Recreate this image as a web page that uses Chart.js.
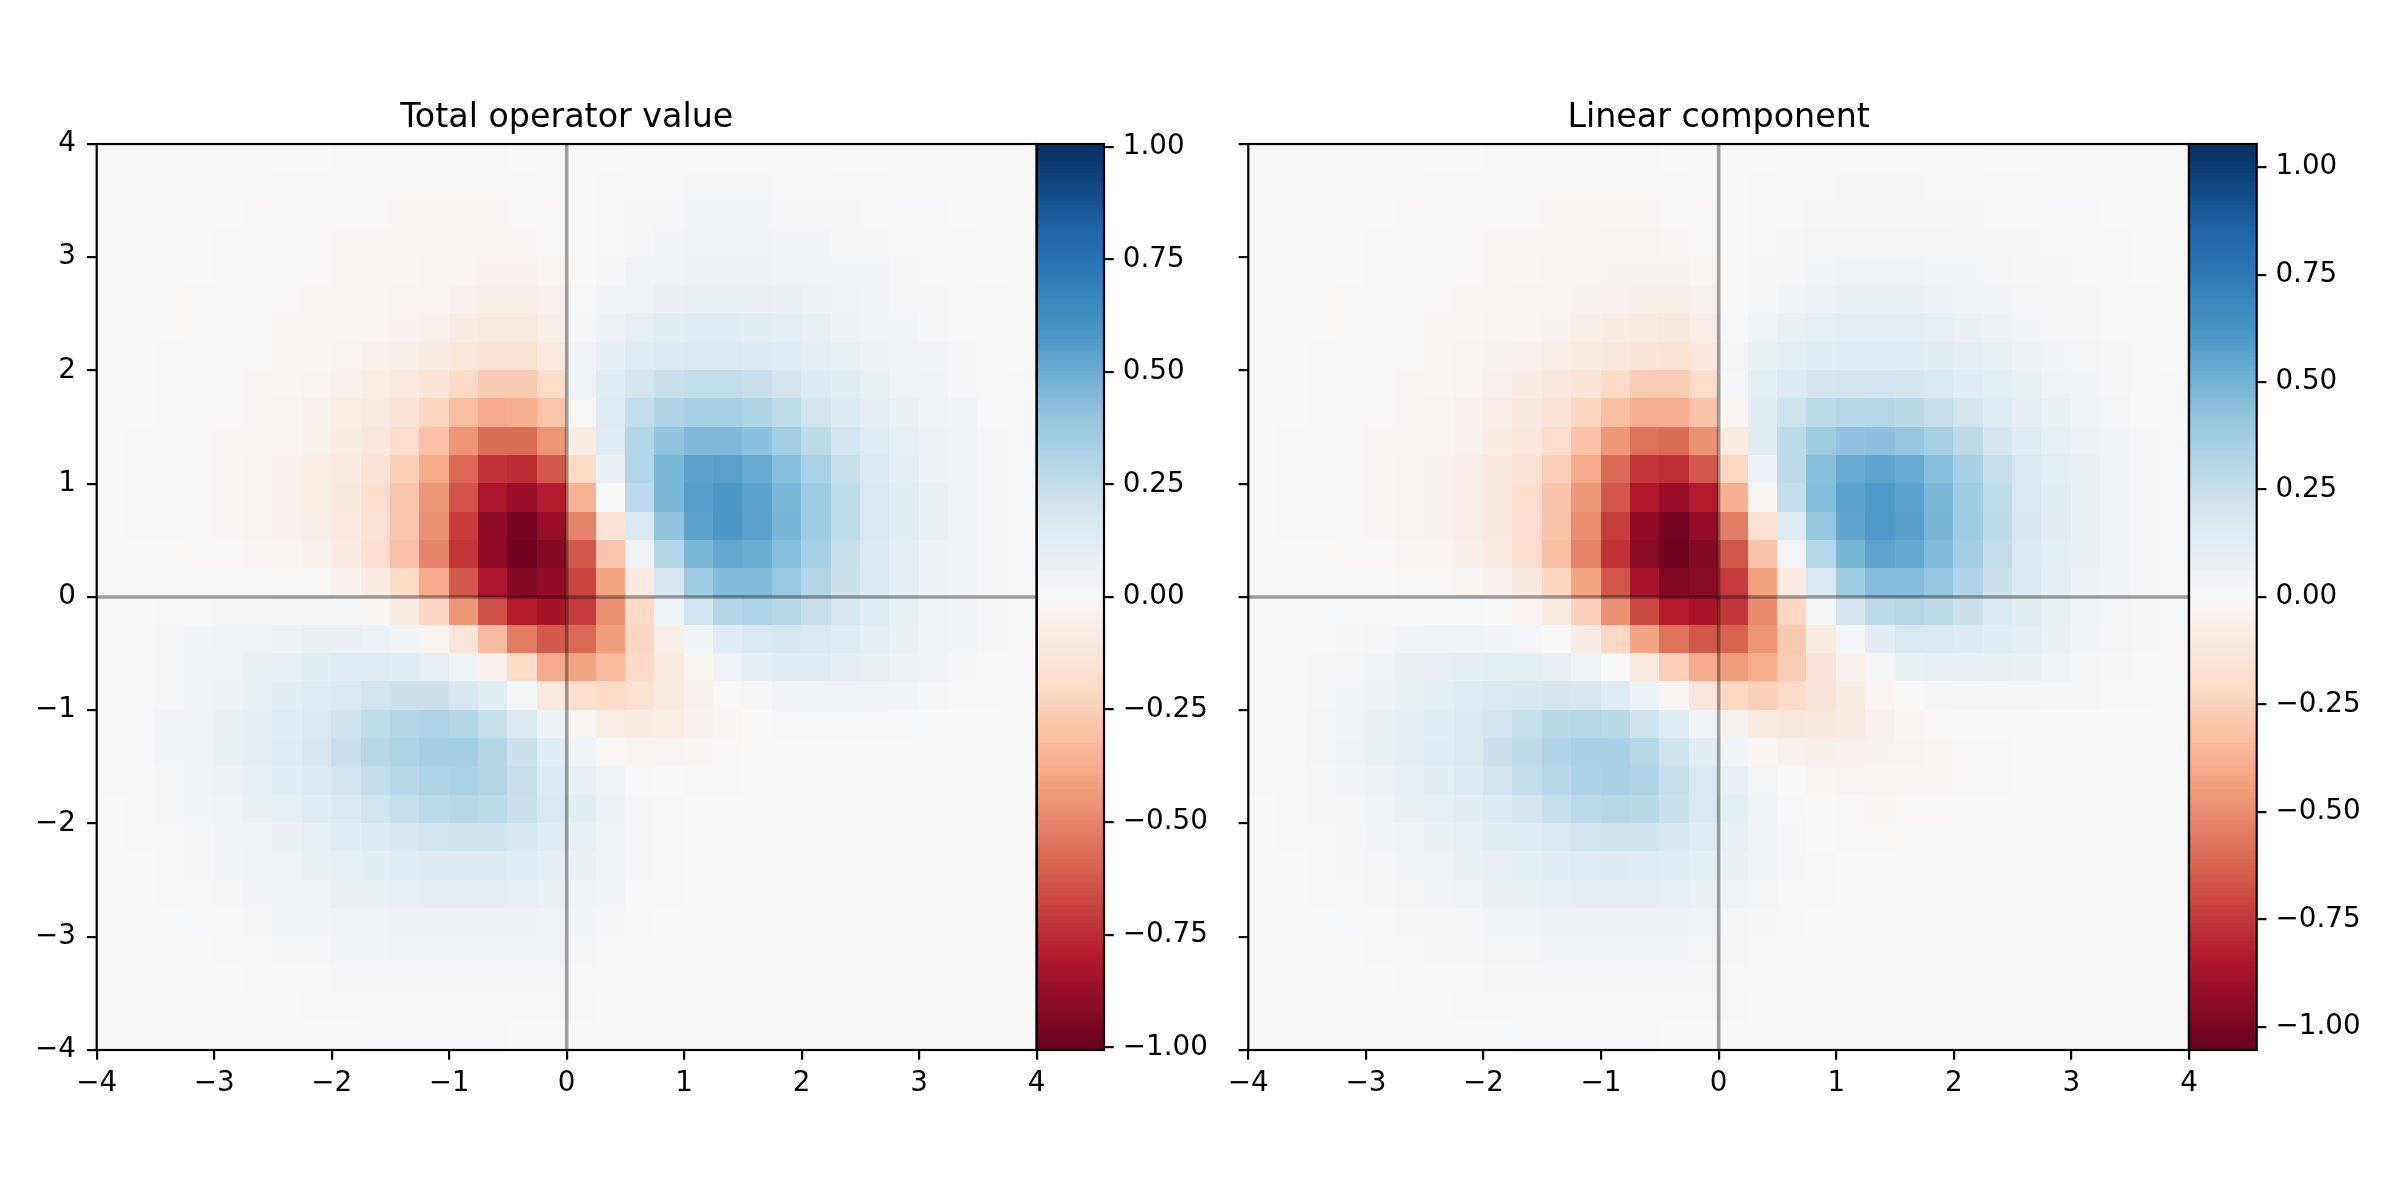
<!DOCTYPE html>
<html lang="en">
<head>
    <meta charset="UTF-8">
    <title>Total operator value / Linear component</title>
    <script src="https://cdn.jsdelivr.net/npm/chart.js"></script>
    <style>
        body {
            margin: 0;
            background: white;
        }
        .figure {
            position: relative;
            width: 2400px;
            height: 1200px;
        }
        .panel {
            position: absolute;
            top: 0;
            height: 1200px;
        }
    </style>
</head>
<body>
    <div class="figure">
        <div class="panel" style="left:0"><canvas id="totalChart" width="1240" height="1200"></canvas></div>
        <div class="panel" style="left:1200px"><canvas id="linearChart" width="1200" height="1200"></canvas></div>
    </div>

    <script>
        // cell centres (grid step 0.25), rows listed from top (y = 3.875) to bottom
        const xCenters = [-3.875, -3.625, -3.375, -3.125, -2.875, -2.625, -2.375, -2.125,
                          -1.875, -1.625, -1.375, -1.125, -0.875, -0.625, -0.375, -0.125,
                          0.125, 0.375, 0.625, 0.875, 1.125, 1.375, 1.625, 1.875,
                          2.125, 2.375, 2.625, 2.875, 3.125, 3.375, 3.625, 3.875];
        const yCenters = xCenters.slice().reverse();
        const axisTicks = [-4, -3, -2, -1, 0, 1, 2, 3, 4];
        const colorbarTicks = [-1, -0.75, -0.5, -0.25, 0, 0.25, 0.5, 0.75, 1];

        const totalValues = [
            [0,0,0,0,0,0,0,0,-0.01,-0.01,-0.01,-0.01,-0.01,-0.01,0,0, 0,0,0.01,0.01,0.01,0.01,0.01,0.01,0.01,0,0,0,0,0,0,0],
            [0,0,0,0,0,0,-0.01,-0.01,-0.01,-0.01,-0.01,-0.01,-0.01,-0.01,-0.01,0, 0,0.01,0.01,0.01,0.02,0.02,0.02,0.01,0.01,0.01,0.01,0,0,0,0,0],
            [0,0,0,0,0,-0.01,-0.01,-0.01,-0.01,-0.01,-0.02,-0.02,-0.02,-0.02,-0.01,-0.01, 0,0.01,0.02,0.02,0.03,0.03,0.03,0.02,0.02,0.02,0.01,0.01,0.01,0,0,0],
            [0,0,0,0,-0.01,-0.01,-0.01,-0.01,-0.02,-0.02,-0.02,-0.02,-0.02,-0.02,-0.02,-0.01, 0,0.01,0.02,0.03,0.04,0.04,0.04,0.03,0.03,0.02,0.02,0.01,0.01,0.01,0,0],
            [0,0,0,0,-0.01,-0.01,-0.01,-0.01,-0.02,-0.02,-0.02,-0.03,-0.03,-0.04,-0.04,-0.02, 0,0.02,0.04,0.05,0.06,0.06,0.06,0.05,0.04,0.03,0.03,0.02,0.01,0.01,0,0],
            [0,0,0,-0.01,-0.01,-0.01,-0.01,-0.02,-0.02,-0.02,-0.03,-0.03,-0.05,-0.06,-0.06,-0.04, 0.01,0.03,0.05,0.07,0.08,0.08,0.08,0.07,0.06,0.05,0.03,0.02,0.02,0.01,0.01,0],
            [0,0,0,-0.01,-0.01,-0.01,-0.02,-0.02,-0.02,-0.03,-0.04,-0.05,-0.08,-0.1,-0.1,-0.06, 0.02,0.06,0.09,0.11,0.12,0.12,0.11,0.1,0.08,0.06,0.05,0.03,0.02,0.01,0.01,0],
            [0,0,-0.01,-0.01,-0.01,-0.01,-0.02,-0.02,-0.03,-0.05,-0.06,-0.08,-0.12,-0.15,-0.15,-0.1, 0.04,0.1,0.14,0.16,0.17,0.17,0.15,0.13,0.1,0.08,0.06,0.04,0.03,0.02,0.01,0],
            [0,0,-0.01,-0.01,-0.01,-0.02,-0.02,-0.03,-0.05,-0.07,-0.1,-0.14,-0.2,-0.26,-0.26,-0.19, 0.04,0.13,0.19,0.23,0.25,0.25,0.23,0.19,0.15,0.11,0.08,0.05,0.04,0.02,0.01,0.01],
            [0,0,-0.01,-0.01,-0.01,-0.02,-0.03,-0.05,-0.07,-0.1,-0.15,-0.22,-0.31,-0.38,-0.37,-0.28, -0.01,0.14,0.25,0.31,0.34,0.34,0.31,0.26,0.2,0.15,0.1,0.07,0.04,0.03,0.01,0.01],
            [0,-0.01,-0.01,-0.01,-0.02,-0.02,-0.03,-0.05,-0.08,-0.12,-0.19,-0.3,-0.45,-0.57,-0.57,-0.45, -0.08,0.13,0.3,0.4,0.45,0.45,0.42,0.35,0.27,0.2,0.14,0.09,0.06,0.04,0.02,0.01],
            [0,-0.01,-0.01,-0.01,-0.02,-0.03,-0.04,-0.07,-0.1,-0.15,-0.25,-0.38,-0.58,-0.73,-0.75,-0.62, -0.2,0.08,0.3,0.46,0.54,0.55,0.51,0.43,0.33,0.24,0.16,0.1,0.06,0.04,0.02,0.01],
            [0,-0.01,-0.01,-0.01,-0.02,-0.03,-0.04,-0.07,-0.11,-0.18,-0.28,-0.44,-0.64,-0.82,-0.88,-0.8, -0.35,0,0.27,0.46,0.56,0.58,0.54,0.46,0.36,0.26,0.17,0.11,0.07,0.04,0.02,0.01],
            [0,-0.01,-0.01,-0.01,-0.02,-0.03,-0.04,-0.06,-0.1,-0.16,-0.28,-0.46,-0.7,-0.9,-0.97,-0.88, -0.5,-0.15,0.16,0.4,0.54,0.58,0.55,0.47,0.36,0.26,0.17,0.11,0.07,0.04,0.02,0.01],
            [0,0,0,-0.01,-0.01,-0.02,-0.03,-0.05,-0.09,-0.17,-0.3,-0.5,-0.72,-0.9,-0.98,-0.92, -0.62,-0.28,0.04,0.3,0.46,0.52,0.5,0.43,0.34,0.24,0.16,0.1,0.06,0.04,0.02,0.01],
            [0,0,0,0,0,0,-0.01,-0.01,-0.04,-0.09,-0.2,-0.38,-0.62,-0.82,-0.93,-0.9, -0.68,-0.4,-0.09,0.18,0.36,0.44,0.44,0.38,0.3,0.22,0.15,0.1,0.06,0.03,0.02,0.01],
            [0,0,0.01,0.01,0.02,0.02,0.02,0.02,0.02,-0.02,-0.08,-0.22,-0.44,-0.65,-0.8,-0.84, -0.7,-0.46,-0.2,0.03,0.2,0.3,0.32,0.29,0.24,0.18,0.12,0.08,0.05,0.03,0.02,0.01],
            [0.01,0.01,0.02,0.03,0.04,0.05,0.06,0.07,0.07,0.06,0.03,-0.03,-0.12,-0.32,-0.52,-0.62, -0.58,-0.42,-0.22,-0.06,0.03,0.12,0.17,0.18,0.17,0.13,0.1,0.07,0.04,0.03,0.02,0.01],
            [0.01,0.01,0.02,0.04,0.05,0.07,0.09,0.11,0.13,0.14,0.12,0.09,0.04,-0.04,-0.2,-0.38, -0.4,-0.32,-0.2,-0.09,-0.02,0.05,0.1,0.12,0.12,0.1,0.08,0.06,0.04,0.02,0.01,0.01],
            [0.01,0.01,0.02,0.04,0.06,0.08,0.11,0.14,0.17,0.2,0.22,0.22,0.18,0.11,0.02,-0.1, -0.18,-0.2,-0.16,-0.09,-0.05,-0.01,0.02,0.04,0.05,0.05,0.04,0.03,0.02,0.01,0.01,0],
            [0.01,0.01,0.03,0.04,0.07,0.1,0.13,0.17,0.21,0.26,0.3,0.32,0.3,0.24,0.15,0.06, -0.02,-0.07,-0.08,-0.07,-0.04,-0.02,0,0.01,0.01,0.01,0.01,0.01,0,0,0,0],
            [0.01,0.01,0.03,0.05,0.07,0.1,0.14,0.18,0.23,0.28,0.32,0.35,0.35,0.3,0.22,0.12, 0.04,-0.01,-0.03,-0.03,-0.02,-0.01,0,0,0,0,0,0,0,0,0,0],
            [0.01,0.01,0.02,0.04,0.06,0.09,0.12,0.16,0.2,0.25,0.29,0.32,0.33,0.3,0.24,0.16, 0.09,0.04,0.01,0,-0.01,-0.01,0,0,0,0,0,0,0,0,0,0],
            [0,0.01,0.02,0.03,0.05,0.07,0.09,0.12,0.16,0.2,0.24,0.27,0.28,0.27,0.23,0.17, 0.11,0.06,0.02,0.01,0,0,0,0,0,0,0,0,0,0,0,0],
            [0,0.01,0.01,0.02,0.04,0.05,0.07,0.09,0.12,0.15,0.18,0.2,0.21,0.21,0.18,0.14, 0.09,0.05,0.02,0.01,0,0,0,0,0,0,0,0,0,0,0,0],
            [0,0,0.01,0.02,0.03,0.04,0.05,0.07,0.09,0.11,0.13,0.15,0.15,0.15,0.13,0.1, 0.07,0.04,0.02,0.01,0,0,0,0,0,0,0,0,0,0,0,0],
            [0,0,0.01,0.01,0.02,0.03,0.04,0.05,0.07,0.08,0.09,0.1,0.1,0.1,0.09,0.07, 0.05,0.03,0.01,0.01,0,0,0,0,0,0,0,0,0,0,0,0],
            [0,0,0,0.01,0.01,0.02,0.03,0.03,0.04,0.05,0.06,0.06,0.06,0.06,0.06,0.05, 0.03,0.02,0.01,0,0,0,0,0,0,0,0,0,0,0,0,0],
            [0,0,0,0,0.01,0.01,0.02,0.02,0.03,0.03,0.04,0.04,0.04,0.04,0.04,0.03, 0.02,0.01,0,0,0,0,0,0,0,0,0,0,0,0,0,0],
            [0,0,0,0,0,0.01,0.01,0.01,0.02,0.02,0.02,0.02,0.02,0.02,0.02,0.02, 0.01,0.01,0,0,0,0,0,0,0,0,0,0,0,0,0,0],
            [0,0,0,0,0,0,0,0.01,0.01,0.01,0.01,0.01,0.01,0.01,0.01,0.01, 0.01,0,0,0,0,0,0,0,0,0,0,0,0,0,0,0],
            [0,0,0,0,0,0,0,0,0,0.01,0.01,0.01,0.01,0.01,0,0, 0,0,0,0,0,0,0,0,0,0,0,0,0,0,0,0]
        ];

        const linearValues = [
            [0,0,0,0,0,0,0,0,-0.01,-0.01,-0.01,-0.01,-0.01,-0.01,0,0, 0,0,0.01,0.01,0.01,0.01,0.01,0.01,0.01,0,0,0,0,0,0,0],
            [0,0,0,0,0,0,-0.01,-0.01,-0.01,-0.01,-0.01,-0.01,-0.01,-0.01,-0.01,0, 0,0.01,0.01,0.01,0.02,0.02,0.02,0.01,0.01,0.01,0.01,0,0,0,0,0],
            [0,0,0,0,0,-0.01,-0.01,-0.01,-0.01,-0.01,-0.02,-0.02,-0.02,-0.02,-0.01,-0.01, 0,0.01,0.01,0.02,0.02,0.02,0.02,0.02,0.02,0.01,0.01,0.01,0.01,0,0,0],
            [0,0,0,0,-0.01,-0.01,-0.01,-0.01,-0.02,-0.02,-0.02,-0.02,-0.03,-0.03,-0.02,-0.01, 0,0.01,0.02,0.03,0.03,0.03,0.03,0.03,0.02,0.02,0.02,0.01,0.01,0.01,0,0],
            [0,0,0,0,-0.01,-0.01,-0.01,-0.01,-0.02,-0.02,-0.03,-0.03,-0.04,-0.04,-0.04,-0.02, 0,0.02,0.03,0.04,0.05,0.05,0.05,0.04,0.04,0.03,0.02,0.02,0.01,0.01,0,0],
            [0,0,0,-0.01,-0.01,-0.01,-0.01,-0.02,-0.02,-0.03,-0.03,-0.04,-0.05,-0.06,-0.06,-0.04, 0,0.02,0.04,0.06,0.07,0.07,0.07,0.06,0.05,0.04,0.03,0.02,0.02,0.01,0.01,0],
            [0,0,0,-0.01,-0.01,-0.01,-0.02,-0.02,-0.03,-0.03,-0.04,-0.06,-0.08,-0.1,-0.11,-0.07, 0.01,0.05,0.08,0.09,0.1,0.1,0.1,0.09,0.07,0.06,0.04,0.03,0.02,0.01,0.01,0],
            [0,0,-0.01,-0.01,-0.01,-0.01,-0.02,-0.03,-0.04,-0.05,-0.07,-0.09,-0.12,-0.15,-0.16,-0.11, 0.03,0.08,0.11,0.13,0.14,0.14,0.13,0.12,0.1,0.08,0.06,0.04,0.03,0.02,0.01,0],
            [0,0,-0.01,-0.01,-0.01,-0.02,-0.02,-0.03,-0.05,-0.08,-0.11,-0.15,-0.21,-0.27,-0.27,-0.2, 0.02,0.11,0.16,0.2,0.21,0.21,0.2,0.17,0.14,0.11,0.08,0.05,0.04,0.02,0.01,0.01],
            [0,0,-0.01,-0.01,-0.01,-0.02,-0.03,-0.05,-0.07,-0.11,-0.16,-0.23,-0.32,-0.39,-0.39,-0.3, -0.02,0.12,0.22,0.28,0.3,0.31,0.29,0.25,0.2,0.15,0.1,0.07,0.05,0.03,0.01,0.01],
            [0,-0.01,-0.01,-0.01,-0.02,-0.02,-0.03,-0.05,-0.08,-0.13,-0.2,-0.31,-0.46,-0.58,-0.6,-0.48, -0.1,0.12,0.28,0.38,0.43,0.44,0.41,0.35,0.28,0.2,0.14,0.09,0.06,0.04,0.02,0.01],
            [0,-0.01,-0.01,-0.01,-0.02,-0.03,-0.04,-0.07,-0.11,-0.16,-0.26,-0.4,-0.6,-0.75,-0.78,-0.65, -0.22,0.06,0.28,0.45,0.53,0.56,0.53,0.45,0.35,0.25,0.17,0.11,0.07,0.04,0.02,0.01],
            [0,-0.01,-0.01,-0.01,-0.02,-0.03,-0.04,-0.07,-0.11,-0.19,-0.3,-0.46,-0.66,-0.85,-0.92,-0.84, -0.38,-0.02,0.26,0.46,0.57,0.6,0.57,0.48,0.37,0.27,0.18,0.12,0.07,0.04,0.02,0.01],
            [0,-0.01,-0.01,-0.01,-0.02,-0.03,-0.04,-0.07,-0.11,-0.18,-0.3,-0.49,-0.73,-0.94,-1.02,-0.93, -0.54,-0.17,0.15,0.41,0.56,0.6,0.58,0.49,0.38,0.28,0.19,0.12,0.07,0.04,0.02,0.01],
            [0,0,0,-0.01,-0.01,-0.02,-0.03,-0.06,-0.1,-0.19,-0.32,-0.53,-0.76,-0.95,-1.03,-0.97, -0.66,-0.3,0.03,0.31,0.49,0.56,0.54,0.47,0.36,0.26,0.18,0.11,0.07,0.04,0.02,0.01],
            [0,0,0,0,0,-0.01,-0.01,-0.02,-0.05,-0.11,-0.23,-0.42,-0.66,-0.87,-0.98,-0.96, -0.74,-0.43,-0.1,0.18,0.37,0.46,0.46,0.41,0.32,0.23,0.16,0.1,0.06,0.04,0.02,0.01],
            [0,0,0,0.01,0.01,0.01,0.01,0.01,0,-0.03,-0.1,-0.25,-0.48,-0.7,-0.84,-0.87, -0.75,-0.5,-0.22,0.03,0.2,0.28,0.3,0.28,0.23,0.17,0.12,0.08,0.05,0.03,0.02,0.01],
            [0.01,0.01,0.01,0.02,0.03,0.04,0.05,0.05,0.04,0.02,0,-0.08,-0.22,-0.42,-0.58,-0.66, -0.62,-0.47,-0.28,-0.1,0.03,0.12,0.17,0.18,0.16,0.13,0.1,0.07,0.04,0.03,0.02,0.01],
            [0.01,0.01,0.02,0.03,0.05,0.07,0.09,0.1,0.11,0.11,0.09,0.05,0,-0.1,-0.26,-0.4, -0.45,-0.39,-0.27,-0.14,-0.05,0.02,0.07,0.09,0.09,0.08,0.07,0.05,0.03,0.02,0.01,0.01],
            [0.01,0.01,0.02,0.04,0.06,0.08,0.11,0.14,0.17,0.19,0.2,0.19,0.14,0.06,-0.02,-0.12, -0.22,-0.25,-0.21,-0.14,-0.08,-0.03,0,0.02,0.03,0.03,0.03,0.02,0.02,0.01,0.01,0],
            [0.01,0.01,0.03,0.04,0.07,0.1,0.13,0.17,0.21,0.25,0.29,0.31,0.29,0.22,0.13,0.04, -0.04,-0.1,-0.12,-0.11,-0.08,-0.05,-0.02,-0.01,0,0,0,0,0,0,0,0],
            [0.01,0.01,0.03,0.05,0.07,0.1,0.14,0.18,0.23,0.28,0.32,0.35,0.35,0.3,0.22,0.12, 0.04,-0.02,-0.05,-0.06,-0.05,-0.04,-0.03,-0.02,-0.01,-0.01,0,0,0,0,0,0],
            [0.01,0.01,0.02,0.04,0.06,0.09,0.12,0.16,0.21,0.26,0.3,0.34,0.35,0.32,0.25,0.17, 0.09,0.03,0,-0.02,-0.03,-0.03,-0.02,-0.02,-0.01,-0.01,0,0,0,0,0,0],
            [0,0.01,0.02,0.03,0.05,0.07,0.09,0.12,0.16,0.2,0.25,0.28,0.3,0.29,0.24,0.18, 0.11,0.05,0.01,0,-0.01,-0.02,-0.01,-0.01,0,0,0,0,0,0,0,0],
            [0,0.01,0.01,0.02,0.04,0.05,0.07,0.09,0.12,0.15,0.18,0.21,0.22,0.22,0.19,0.15, 0.09,0.04,0.02,0,-0.01,-0.01,0,0,0,0,0,0,0,0,0,0],
            [0,0,0.01,0.02,0.03,0.04,0.05,0.07,0.09,0.11,0.13,0.15,0.16,0.15,0.14,0.11, 0.07,0.04,0.02,0.01,0,0,0,0,0,0,0,0,0,0,0,0],
            [0,0,0.01,0.01,0.02,0.03,0.04,0.05,0.07,0.08,0.09,0.1,0.1,0.1,0.09,0.07, 0.05,0.03,0.01,0.01,0,0,0,0,0,0,0,0,0,0,0,0],
            [0,0,0,0.01,0.01,0.02,0.03,0.03,0.04,0.05,0.06,0.06,0.06,0.06,0.06,0.05, 0.03,0.02,0.01,0,0,0,0,0,0,0,0,0,0,0,0,0],
            [0,0,0,0,0.01,0.01,0.02,0.02,0.03,0.03,0.04,0.04,0.04,0.04,0.04,0.03, 0.02,0.01,0,0,0,0,0,0,0,0,0,0,0,0,0,0],
            [0,0,0,0,0,0.01,0.01,0.01,0.02,0.02,0.02,0.02,0.02,0.02,0.02,0.02, 0.01,0.01,0,0,0,0,0,0,0,0,0,0,0,0,0,0],
            [0,0,0,0,0,0,0,0.01,0.01,0.01,0.01,0.01,0.01,0.01,0.01,0.01, 0.01,0,0,0,0,0,0,0,0,0,0,0,0,0,0,0],
            [0,0,0,0,0,0,0,0,0,0.01,0.01,0.01,0.01,0.01,0,0, 0,0,0,0,0,0,0,0,0,0,0,0,0,0,0,0]
        ];

        const totalLimit = 1.006;   // colour scale runs -limit .. +limit
        const linearLimit = 1.054;

        // matplotlib RdBu anchors, low -> high
        const rdbu = ['#67001f', '#b2182b', '#d6604d', '#f4a582', '#fddbc7', '#f7f7f7',
                      '#d1e5f0', '#92c5de', '#4393c3', '#2166ac', '#053061'];
        const rdbuRgb = rdbu.map(h => [1, 3, 5].map(i => parseInt(h.substr(i, 2), 16)));

        function colorFor(v, limit) {
            let t = (v + limit) / (2 * limit);
            t = Math.max(0, Math.min(1, t)) * 10;
            const i = Math.min(9, Math.floor(t));
            const f = t - i;
            const a = rdbuRgb[i], b = rdbuRgb[i + 1];
            const c = a.map((ch, k) => Math.round(ch + (b[k] - ch) * f));
            return `rgb(${c[0]},${c[1]},${c[2]})`;
        }

        function fmt(v, digits) {
            const s = Math.abs(v).toFixed(digits);
            return v < 0 ? '\u2212' + s : s;
        }

        const FONT = "'DejaVu Sans', sans-serif";
        Chart.defaults.color = '#000';
        Chart.defaults.font.family = FONT;

        const heatmapPlugin = {
            id: 'heatmap',
            beforeDatasetsDraw(chart, args, opts) {
                const { ctx, chartArea } = chart;
                const x = chart.scales.x, y = chart.scales.y, cb = chart.scales.cb;
                const half = (xCenters[1] - xCenters[0]) / 2;
                ctx.save();
                chart.data.datasets[0].data.forEach(p => {
                    const l = Math.floor(x.getPixelForValue(p.x - half));
                    const r = Math.ceil(x.getPixelForValue(p.x + half));
                    const t = Math.floor(y.getPixelForValue(p.y + half));
                    const b = Math.ceil(y.getPixelForValue(p.y - half));
                    ctx.fillStyle = colorFor(p.v, opts.limit);
                    ctx.fillRect(l, t, r - l, b - t);
                });
                // colour bar
                const x0 = x.getPixelForValue(4);
                const steps = 256;
                for (let i = 0; i < steps; i++) {
                    const v0 = cb.min + (cb.max - cb.min) * i / steps;
                    const v1 = cb.min + (cb.max - cb.min) * (i + 1) / steps;
                    const top = cb.getPixelForValue(v1), bot = cb.getPixelForValue(v0);
                    ctx.fillStyle = colorFor((v0 + v1) / 2, opts.limit);
                    ctx.fillRect(x0, Math.floor(top), chartArea.right - x0, Math.ceil(bot) - Math.floor(top));
                }
                ctx.restore();
            },
            afterDraw(chart, args, opts) {
                const { ctx, chartArea } = chart;
                const x = chart.scales.x, y = chart.scales.y;
                const left = x.getPixelForValue(-4), right = x.getPixelForValue(4);
                const top = y.getPixelForValue(4), bottom = y.getPixelForValue(-4);
                ctx.save();
                ctx.strokeStyle = '#000';
                ctx.lineWidth = 2.2;
                ctx.strokeRect(left, top, right - left, bottom - top);
                ctx.strokeRect(right, chartArea.top, chartArea.right - right, chartArea.bottom - chartArea.top);
                ctx.fillStyle = '#000';
                ctx.font = `33.3px ${FONT}`;
                ctx.textAlign = 'center';
                ctx.textBaseline = 'alphabetic';
                ctx.fillText(opts.title, (left + right) / 2, top - 16.7);
                ctx.restore();
            }
        };

        function makePanel(canvasId, title, values, limit, leftWidth, rightWidth, xMax, showYLabels) {
            const cells = [];
            yCenters.forEach((yc, r) => {
                xCenters.forEach((xc, c) => {
                    cells.push({ x: xc, y: yc, v: values[r][c] });
                });
            });

            const tickGrid = {
                display: true,
                drawOnChartArea: false,
                drawTicks: true,
                tickLength: 9.7,
                lineWidth: 2.2,
                tickWidth: 2.2,
                color: '#000',
                tickColor: '#000'
            };
            const tickFont = { family: FONT, size: 27.8 };
            const zeroLine = { showLine: true, pointRadius: 0, borderColor: 'rgba(0,0,0,0.36)', borderWidth: 3.6 };

            return new Chart(document.getElementById(canvasId), {
                type: 'scatter',
                data: {
                    datasets: [
                        { data: cells, pointRadius: 0, pointHoverRadius: 0 },
                        Object.assign({ data: [{ x: -4, y: 0 }, { x: 4, y: 0 }] }, zeroLine),
                        Object.assign({ data: [{ x: 0, y: -4 }, { x: 0, y: 4 }] }, zeroLine)
                    ]
                },
                options: {
                    responsive: false,
                    animation: false,
                    devicePixelRatio: 1,
                    layout: { padding: { top: 144, left: 0, right: 0, bottom: 0 } },
                    scales: {
                        x: {
                            type: 'linear',
                            position: 'bottom',
                            min: -4,
                            max: xMax,
                            grid: tickGrid,
                            border: { display: false },
                            afterBuildTicks: s => { s.ticks = axisTicks.map(v => ({ value: v })); },
                            afterFit: s => { s.height = 150; },
                            ticks: {
                                autoSkip: false, maxRotation: 0, padding: 7,
                                font: tickFont,
                                callback: v => fmt(v, 0)
                            }
                        },
                        y: {
                            type: 'linear',
                            position: 'left',
                            min: -4,
                            max: 4,
                            grid: tickGrid,
                            border: { display: false },
                            afterBuildTicks: s => { s.ticks = axisTicks.map(v => ({ value: v })); },
                            afterFit: s => { s.width = leftWidth; },
                            ticks: {
                                autoSkip: false, padding: 11,
                                font: tickFont,
                                callback: v => showYLabels ? fmt(v, 0) : ''
                            }
                        },
                        cb: {
                            type: 'linear',
                            position: 'right',
                            min: -limit,
                            max: limit,
                            grid: tickGrid,
                            border: { display: false },
                            afterBuildTicks: s => { s.ticks = colorbarTicks.map(v => ({ value: v })); },
                            afterFit: s => { s.width = rightWidth; },
                            ticks: {
                                autoSkip: false, padding: 9,
                                font: tickFont,
                                callback: v => fmt(v, 2)
                            }
                        }
                    },
                    plugins: {
                        legend: { display: false },
                        tooltip: { enabled: false },
                        heatmap: { title: title, limit: limit }
                    }
                },
                plugins: [heatmapPlugin]
            });
        }

        makePanel('totalChart', 'Total operator value', totalValues, totalLimit, 96.7, 136, 4.573, true);
        makePanel('linearChart', 'Linear component', linearValues, linearLimit, 48.3, 143.3, 4.576, false);
    </script>
</body>
</html>
